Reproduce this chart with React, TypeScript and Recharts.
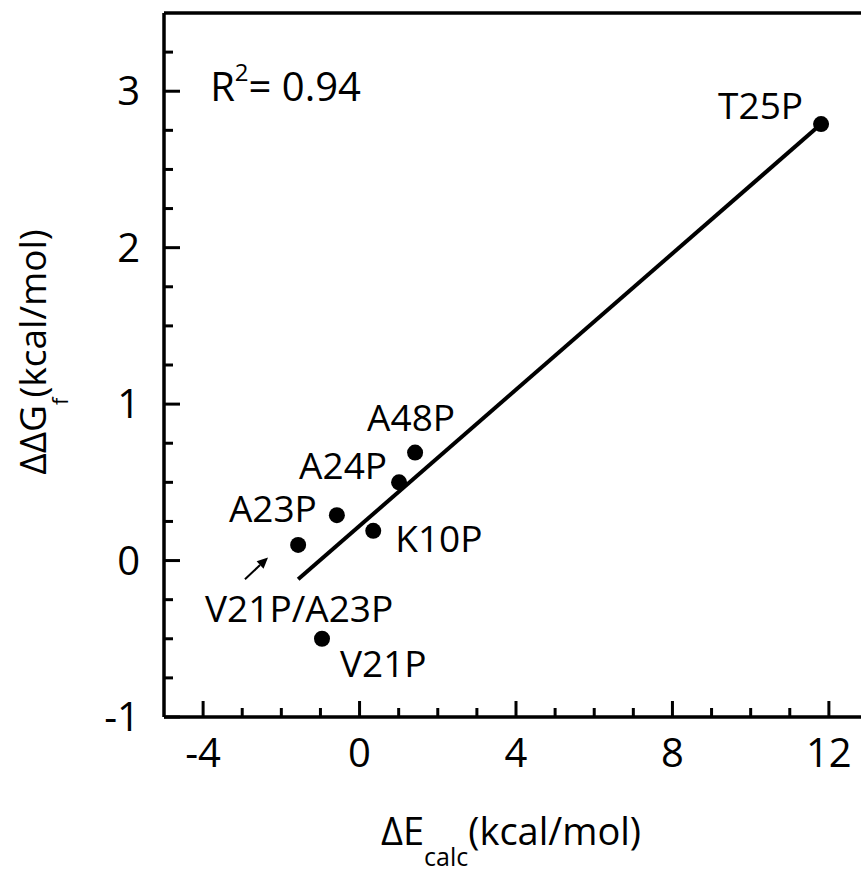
import { ComposedChart, Scatter, XAxis, YAxis, ReferenceLine, ReferenceDot } from 'recharts'

// folding free energy vs. calculated strain energy for the proline mutants
const mutants = ['V21P/A23P', 'A23P', 'V21P', 'K10P', 'A24P', 'A48P', 'T25P']
const deltaE = [-1.57, -0.58, -0.96, 0.35, 1.01, 1.42, 11.8]
const deltaDeltaG = [0.1, 0.29, -0.5, 0.19, 0.5, 0.69, 2.79]

// least-squares fit, drawn over the range of the data
const fitStart = { x: -1.57, y: -0.12 }
const fitEnd = { x: 11.8, y: 2.79 }
const rSquared = '0.94'

// arrow pointing at the V21P/A23P point
const arrowFrom = { x: -2.93, y: -0.12 }
const arrowTo = { x: -2.34, y: 0.02 }

const xTicks = [-4, -3, -2, -1, 0, 1, 2, 3, 4, 5, 6, 7, 8, 9, 10, 11, 12]
const xMajor = [-4, 0, 4, 8, 12]
const yTicks = [-1, -0.75, -0.5, -0.25, 0, 0.25, 0.5, 0.75, 1, 1.25, 1.5, 1.75, 2, 2.25, 2.5, 2.75, 3, 3.25]
const yMajor = [-1, 0, 1, 2, 3]

const data = mutants.map((name, i) => ({ name, x: deltaE[i], y: deltaDeltaG[i] }))

const FONT = '"Open Sans", "Noto Sans", sans-serif'

// where each point's name sits relative to its marker
const labelPlacement: Record<string, { dx: number; dy: number; anchor: 'start' | 'middle' | 'end' }> = {
  'T25P': { dx: -18, dy: -5, anchor: 'end' },
  'A48P': { dx: -4, dy: -22, anchor: 'middle' },
  'A24P': { dx: -12, dy: -3, anchor: 'end' },
  'A23P': { dx: -20, dy: 7, anchor: 'end' },
  'K10P': { dx: 22, dy: 21, anchor: 'start' },
  'V21P/A23P': { dx: 1, dy: 77, anchor: 'middle' },
  'V21P': { dx: 18, dy: 38, anchor: 'start' },
}

const PointWithLabel = (props: any) => {
  const { cx, cy, payload } = props
  const place = labelPlacement[payload.name]
  return (
    <g>
      <circle cx={cx} cy={cy} r={8} fill="#000" />
      <text
        x={cx + place.dx}
        y={cy + place.dy}
        textAnchor={place.anchor}
        fontSize={37}
        fontFamily={FONT}
        fill="#000"
      >
        {payload.name}
      </text>
    </g>
  )
}

// ticks point into the plot; only the major ones carry a label
const XTick = (props: any) => {
  const { x, y, payload } = props
  const major = xMajor.includes(payload.value)
  return (
    <g>
      <line x1={x} y1={y} x2={x} y2={y - (major ? 16 : 9)} stroke="#000" strokeWidth={3} />
      {major && (
        <text x={x} y={y + 50} textAnchor="middle" fontSize={40} fontFamily={FONT} fill="#000">
          {payload.value}
        </text>
      )}
    </g>
  )
}

const YTick = (props: any) => {
  const { x, y, payload } = props
  const major = yMajor.includes(payload.value)
  return (
    <g>
      <line x1={x} y1={y} x2={x + (major ? 16 : 9)} y2={y} stroke="#000" strokeWidth={3} />
      {major && (
        <text x={x - 24} y={y + 14} textAnchor="end" fontSize={40} fontFamily={FONT} fill="#000">
          {payload.value}
        </text>
      )}
    </g>
  )
}

const XTitle = (props: any) => {
  const { viewBox } = props
  const cx = viewBox.x + viewBox.width / 2 - 5
  const base = viewBox.y + 128
  return (
    <text x={cx} y={base} textAnchor="middle" fontSize={38} fontFamily={FONT} fill="#000">
      ΔE
      <tspan fontSize={25} dy={21}>calc</tspan>
      <tspan dy={-21}>(kcal/mol)</tspan>
    </text>
  )
}

const YTitle = (props: any) => {
  const { viewBox } = props
  const x = viewBox.x + 46
  const y = 352
  return (
    <text
      x={x}
      y={y}
      transform={`rotate(-90, ${x}, ${y})`}
      textAnchor="middle"
      fontSize={37}
      fontFamily={FONT}
      fill="#000"
    >
      ΔΔG
      <tspan fontSize={22} dy={22}>f</tspan>
      <tspan dy={-22}>(kcal/mol)</tspan>
    </text>
  )
}

const RSquaredLabel = (props: any) => {
  const { viewBox } = props
  return (
    <text x={viewBox.x} y={viewBox.y} textAnchor="start" fontSize={40} fontFamily={FONT} fill="#000">
      R
      <tspan fontSize={24} dy={-20}>2</tspan>
      <tspan dy={20}>= {rSquared}</tspan>
    </text>
  )
}

const Arrow = (props: any) => {
  const { x1, y1, x2, y2 } = props
  const ang = Math.atan2(y2 - y1, x2 - x1)
  const len = 11
  const half = 5
  const bx = x2 - len * Math.cos(ang)
  const by = y2 - len * Math.sin(ang)
  const px = -Math.sin(ang) * half
  const py = Math.cos(ang) * half
  return (
    <g>
      <line x1={x1} y1={y1} x2={bx} y2={by} stroke="#000" strokeWidth={2} />
      <polygon points={`${x2},${y2} ${bx + px},${by + py} ${bx - px},${by - py}`} fill="#000" />
    </g>
  )
}

export default function App() {
  return (
    <div
      style={{
        position: 'absolute',
        left: 0,
        top: 0,
        width: 861,
        height: 873,
        overflow: 'hidden',
        background: '#fff',
      }}
    >
      <ComposedChart width={880} height={873} margin={{ top: 13, right: 12, bottom: 0, left: 0 }}>
        <XAxis
          type="number"
          dataKey="x"
          domain={[-5, 13]}
          ticks={xTicks}
          interval={0}
          allowDataOverflow
          height={156}
          tickSize={0}
          tickMargin={0}
          tickLine={false}
          tick={<XTick />}
          axisLine={{ stroke: '#000', strokeWidth: 3.5 }}
          label={<XTitle />}
        />
        <YAxis
          type="number"
          dataKey="y"
          domain={[-1, 3.5]}
          ticks={yTicks}
          interval={0}
          allowDataOverflow
          width={164}
          tickSize={0}
          tickMargin={0}
          tickLine={false}
          tick={<YTick />}
          axisLine={{ stroke: '#000', strokeWidth: 3.5 }}
          label={<YTitle />}
        />
        <ReferenceLine y={3.5} stroke="#000" strokeWidth={3.5} />
        <ReferenceLine
          segment={[fitStart, fitEnd]}
          stroke="#000"
          strokeWidth={4}
        />
        <ReferenceLine segment={[arrowFrom, arrowTo]} shape={<Arrow />} />
        <ReferenceDot x={-3.82} y={2.935} r={0} fill="none" stroke="none" label={<RSquaredLabel />} />
        <Scatter data={data} shape={<PointWithLabel />} isAnimationActive={false} />
      </ComposedChart>
    </div>
  )
}
